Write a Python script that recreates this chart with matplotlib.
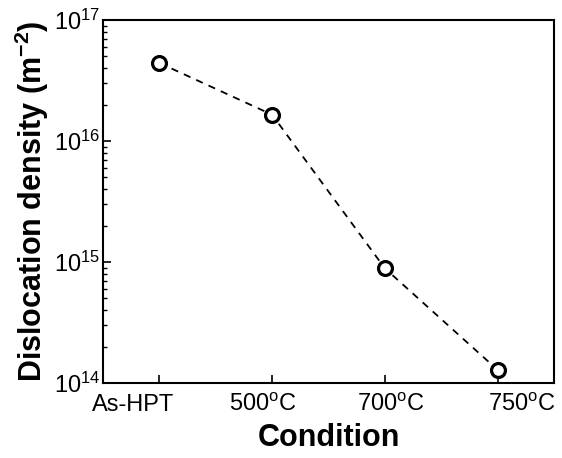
import matplotlib
matplotlib.use("Agg")
import matplotlib.pyplot as plt
import matplotlib.transforms as mtransforms
from matplotlib.ticker import LogLocator, NullFormatter

plt.rcParams['font.family'] = ['Liberation Sans', 'DejaVu Sans']
plt.rcParams['mathtext.default'] = 'regular'

conditions = ['As-HPT', '500$^{o}$C', '700$^{o}$C', '750$^{o}$C']
density = [4.42e16, 1.65e16, 8.86e14, 1.28e14]
# label shift in pixels, the original tick labels are spread wider than the ticks
label_shift = [-26, -9, 6, 24]

fig = plt.figure(figsize=(5.62, 4.58), dpi=100)
ax = fig.add_axes([0.183, 0.1638, 0.803, 0.7925])

x = list(range(len(conditions)))
ax.plot(x, density, linestyle=(0, (4, 3.5)), color='black', linewidth=1.3,
        marker='o', markersize=10, markerfacecolor='white',
        markeredgecolor='black', markeredgewidth=2.3)

ax.set_yscale('log')
ax.set_ylim(1e14, 1e17)
ax.set_xlim(-0.5, 3.5)
ax.set_xticks(x)
ax.set_xticklabels(conditions)
ax.yaxis.set_minor_locator(LogLocator(base=10, subs=range(2, 10)))
ax.yaxis.set_minor_formatter(NullFormatter())

ax.tick_params(axis='both', which='major', direction='in', length=6, width=1.2,
               labelsize=17, top=False, right=False)
ax.tick_params(axis='y', which='minor', direction='in', length=3, width=1.0, right=False)
ax.tick_params(axis='x', which='major', pad=8)
ax.tick_params(axis='y', which='major', pad=2)

for lab, dx in zip(ax.get_xticklabels(), label_shift):
    off = mtransforms.ScaledTranslation(dx / 100, 0, fig.dpi_scale_trans)
    lab.set_transform(lab.get_transform() + off)

for s in ax.spines.values():
    s.set_linewidth(1.5)

ax.set_xlabel('Condition', fontsize=22, fontweight='bold', labelpad=5)
ax.set_ylabel('Dislocation density (m$^{-2}$)', fontsize=22, fontweight='bold', labelpad=2)

fig.savefig('out.png', dpi=100)
